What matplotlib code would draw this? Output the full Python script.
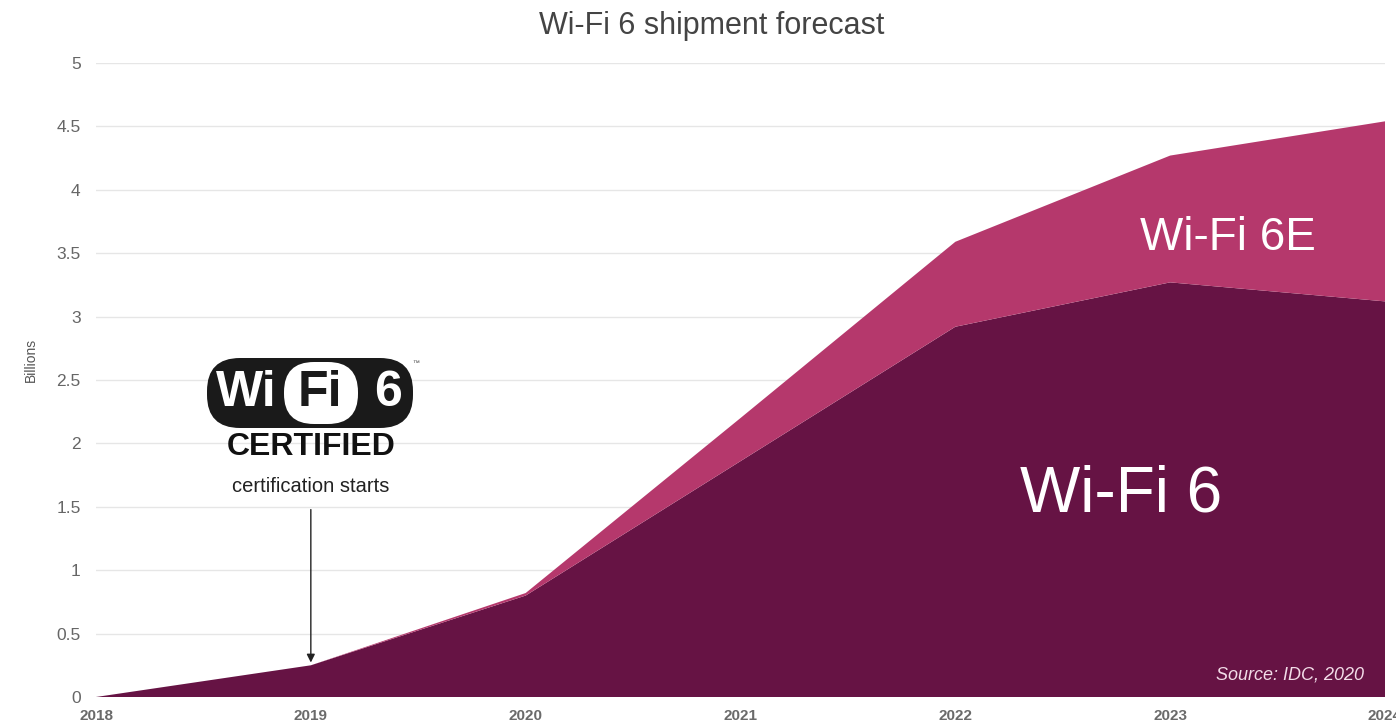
import matplotlib.pyplot as plt
from matplotlib.patches import FancyBboxPatch

# Data (billions of units)
years = [2018, 2019, 2020, 2021, 2022, 2023, 2024]
wifi6 = [0.0, 0.25, 0.80, 1.86, 2.92, 3.27, 3.12]
wifi6e = [0.0, 0.0, 0.02, 0.34, 0.67, 1.00, 1.42]
yticks = [0, 0.5, 1, 1.5, 2, 2.5, 3, 3.5, 4, 4.5, 5]
ytick_labels = ['0', '0.5', '1', '1.5', '2', '2.5', '3', '3.5', '4', '4.5', '5']

dark = '#661344'
pink = '#b5386c'

plt.rcParams['font.family'] = ['Liberation Sans', 'DejaVu Sans']

W, H = 1396, 726
fig = plt.figure(figsize=(W / 100, H / 100), dpi=100)
ax = fig.add_axes([96 / W, 1 - 697 / H, (1385 - 96) / W, (697 - 63) / H])

ax.stackplot(years, wifi6, wifi6e, colors=[dark, pink], linewidth=0, zorder=2)

ax.set_xlim(2018, 2024)
ax.set_ylim(0, 5)
ax.set_yticks(yticks)
ax.set_yticklabels(ytick_labels)
ax.set_xticks(years)
ax.set_xticklabels([str(y) for y in years], fontsize=11, fontweight='bold', color='#6a6a6a')
ax.tick_params(axis='y', labelsize=12.5, labelcolor='#666666', length=0, pad=11)
ax.tick_params(axis='x', length=0, pad=9)
ax.grid(axis='y', color='#e6e6e6', linewidth=1, zorder=0)
for s in ax.spines.values():
    s.set_visible(False)

fig.text(31 / W, 1 - 360 / H, 'Billions', fontsize=10, color='#555555', rotation=90,
         ha='center', va='center')

fig.text(712 / W, 1 - 26 / H, 'Wi-Fi 6 shipment forecast', ha='center', va='center',
         fontsize=22, color='#444444')

# labels inside the areas
ax.text(2022.77, 1.6, 'Wi-Fi 6', fontsize=46, color='white', ha='center', va='center', zorder=5)
ax.text(2023.27, 3.62, 'Wi-Fi 6E', fontsize=33, color='white', ha='center', va='center', zorder=5)
ax.text(2023.9, 0.17, 'Source: IDC, 2020', fontsize=13, color='#f2dce8', style='italic',
        ha='right', va='center', zorder=5)

# certification arrow
ax.annotate('', xy=(2019.0, 0.25), xytext=(2019.0, 1.5),
            arrowprops=dict(arrowstyle='-|>', color='#222222', lw=1, mutation_scale=12), zorder=6)
ax.text(2019.0, 1.66, 'certification starts', fontsize=14.5, color='#222222',
        ha='center', va='center', zorder=6)
ax.text(2019.0, 1.97, 'CERTIFIED', fontsize=23, fontweight='bold', color='#111111',
        ha='center', va='center', zorder=6)

# Wi-Fi 6 logo
lax = fig.add_axes([207 / W, 1 - 428 / H, 206 / W, 70 / H])
lax.set_xlim(0, 206)
lax.set_ylim(0, 70)
lax.axis('off')
lax.add_patch(FancyBboxPatch((0, 0), 206, 70, boxstyle='round,pad=0,rounding_size=33',
                             facecolor='#1a1a1a', edgecolor='none'))
lax.add_patch(FancyBboxPatch((77, 4), 74, 62, boxstyle='round,pad=0,rounding_size=30',
                             facecolor='white', edgecolor='none'))
lax.text(39, 35, 'Wi', fontsize=36, fontweight='bold', color='white', ha='center', va='center')
lax.text(113, 35, 'Fi', fontsize=36, fontweight='bold', color='#1a1a1a', ha='center', va='center')
lax.text(181, 35, '6', fontsize=36, fontweight='bold', color='white', ha='center', va='center')
fig.text(416 / W, 1 - 364 / H, '™', fontsize=5, color='#444444', ha='center', va='center')

plt.savefig('out.png', dpi=100, facecolor='white')
